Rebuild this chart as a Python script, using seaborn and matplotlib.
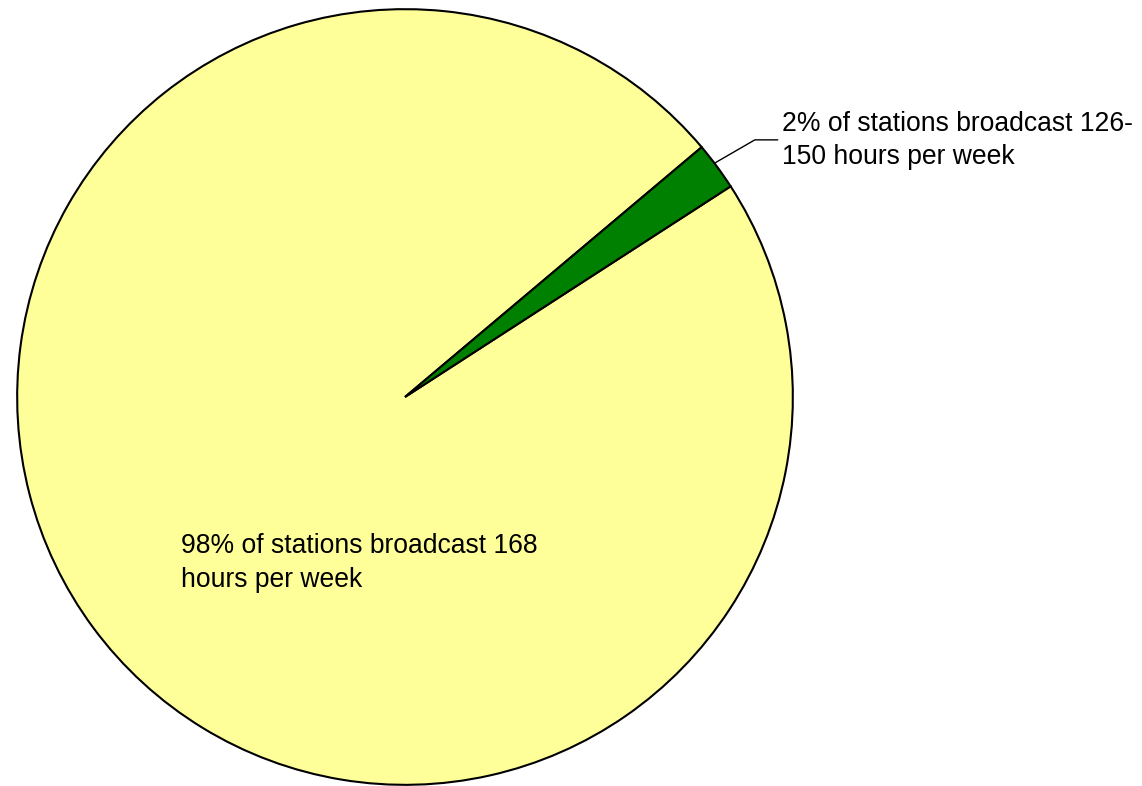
import matplotlib
matplotlib.use("Agg")
import matplotlib.pyplot as plt
import seaborn as sns

sns.set_style("white")
plt.rcParams['font.family'] = ['Liberation Sans', 'DejaVu Sans']

labels = ["98% of stations broadcast 168\nhours per week",
          "2% of stations broadcast 126-\n150 hours per week"]
values = [98, 2]
colors = ["#FFFF99", "#008000"]

W, H = 1142, 786
fig = plt.figure(figsize=(W / 100, H / 100), dpi=100)
cx, cy, r = 405, 389, 389
ax = fig.add_axes([(cx - r) / W, (cy - r) / H, 2 * r / W, 2 * r / H])
wedges, _ = ax.pie(values, colors=colors, startangle=40.1, counterclock=True,
                   radius=1, wedgeprops=dict(edgecolor="black", linewidth=1.5))
ax.set_xlim(-1.003, 1.003)
ax.set_ylim(-1.003, 1.003)
ax.set_aspect("equal")
ax.axis("off")

ax.text(-0.578, -0.428, labels[0], ha="left", va="center", fontsize=19.1,
        linespacing=1.36, color="black")
ax.text(0.972, 0.662, labels[1], ha="left", va="center", fontsize=19.1,
        linespacing=1.36, color="black", clip_on=False)
ax.plot([0.80, 0.902, 0.961], [0.604, 0.663, 0.663], color="black",
        linewidth=1, clip_on=False)

fig.savefig("out.png", dpi=100, facecolor="white")
